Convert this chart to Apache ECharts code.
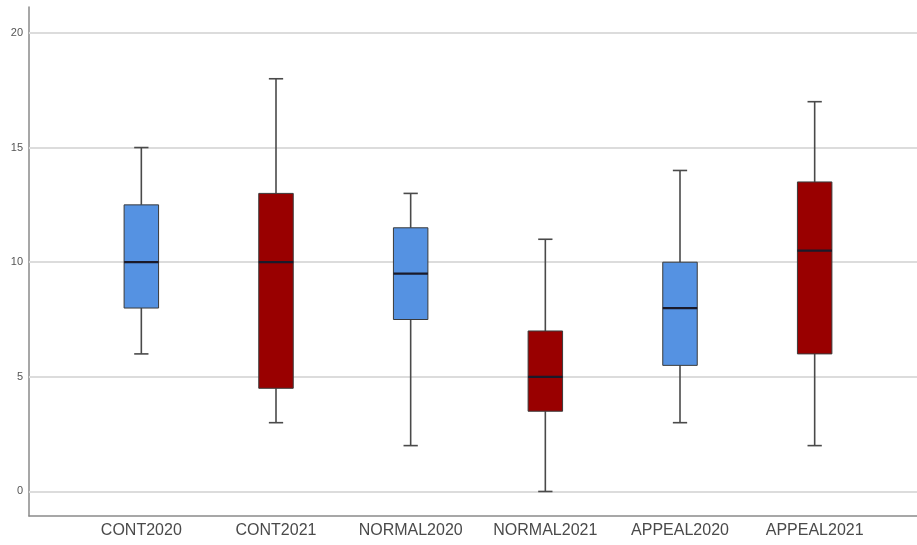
<!DOCTYPE html>
<html>
<head>
<meta charset="utf-8">
<script src="https://cdn.jsdelivr.net/npm/echarts@6/dist/echarts.min.js"></script>
<style>html,body{margin:0;padding:0;background:#fff}#c{width:917px;height:545px}</style>
</head>
<body>
<div id="c"></div>
<script>
var categories = ['CONT2020', 'CONT2021', 'NORMAL2020', 'NORMAL2021', 'APPEAL2020', 'APPEAL2021'];
var whiskerLow  = [6, 3, 2, 0, 3, 2];
var q1          = [8, 4.5, 7.5, 3.5, 5.5, 6];
var median      = [10, 10, 9.5, 5, 8, 10.5];
var q3          = [12.5, 13, 11.5, 7, 10, 13.5];
var whiskerHigh = [15, 18, 13, 11, 14, 17];
var groupColors = ['#5592E2', '#990000', '#5592E2', '#990000', '#5592E2', '#990000'];
var yTicks = [0, 5, 10, 15, 20];

var yMin = -1.07, yMax = 21.13;

var boxData = categories.map(function (c, i) {
  return [i, whiskerLow[i], q1[i], median[i], q3[i], whiskerHigh[i]];
});

var chart = echarts.init(document.getElementById('c'), null, {renderer: 'canvas'});
chart.setOption({
  backgroundColor: '#ffffff',
  animation: false,
  grid: [
    {left: 29, right: 0, top: 7, bottom: 29},
    {left: 74, right: 35, top: 7, bottom: 29}
  ],
  xAxis: [
    {gridIndex: 0, type: 'value', min: 0, max: 1,
     axisLine: {show: true, onZero: false, lineStyle: {color: '#8a8a8a', width: 1.5}},
     axisTick: {show: false}, axisLabel: {show: false}, splitLine: {show: false}},
    {gridIndex: 1, type: 'category', data: categories,
     axisLine: {show: false}, axisTick: {show: false},
     axisLabel: {show: true, interval: 0, hideOverlap: false, margin: 7, color: '#4a4a4a', fontSize: 16,
                 fontFamily: 'Liberation Sans, Arial, sans-serif'},
     splitLine: {show: false}}
  ],
  yAxis: [
    {gridIndex: 0, type: 'value', min: yMin, max: yMax,
     axisLine: {show: true, lineStyle: {color: '#8a8a8a', width: 1.5}},
     axisTick: {show: false},
     axisLabel: {show: true, customValues: yTicks, margin: 6, color: '#555', fontSize: 11,
                 fontFamily: 'Liberation Sans, Arial, sans-serif'},
     splitLine: {show: false}},
    {gridIndex: 1, type: 'value', min: yMin, max: yMax, show: false,
     splitLine: {show: false}}
  ],
  series: [
    {
      type: 'line', xAxisIndex: 0, yAxisIndex: 0, data: [], silent: true,
      markLine: {
        silent: true, symbol: 'none', label: {show: false},
        lineStyle: {color: '#dcdcdc', width: 2, type: 'solid'},
        data: yTicks.map(function (v) { return {yAxis: v}; })
      }
    },
    {
      type: 'custom', xAxisIndex: 1, yAxisIndex: 1, data: boxData, z: 5,
      renderItem: function (params, api) {
        var idx = api.value(0);
        var pLow = api.coord([idx, api.value(1)]);
        var pQ1 = api.coord([idx, api.value(2)]);
        var pMed = api.coord([idx, api.value(3)]);
        var pQ3 = api.coord([idx, api.value(4)]);
        var pHigh = api.coord([idx, api.value(5)]);
        var band = api.size([1, 0])[0];
        var hw = band * 0.128;
        var cw = band * 0.053;
        var x = pMed[0];
        var col = groupColors[params.dataIndex];
        var wStyle = {stroke: '#4a4a4a', lineWidth: 1.6};
        return {
          type: 'group',
          children: [
            {type: 'line', shape: {x1: x, y1: pHigh[1], x2: x, y2: pQ3[1]}, style: wStyle},
            {type: 'line', shape: {x1: x, y1: pQ1[1], x2: x, y2: pLow[1]}, style: wStyle},
            {type: 'line', shape: {x1: x - cw, y1: pHigh[1], x2: x + cw, y2: pHigh[1]}, style: wStyle},
            {type: 'line', shape: {x1: x - cw, y1: pLow[1], x2: x + cw, y2: pLow[1]}, style: wStyle},
            {type: 'rect', shape: {x: x - hw, y: pQ3[1], width: hw * 2, height: pQ1[1] - pQ3[1]},
             style: {fill: col, stroke: '#3a3a3a', lineWidth: 1}},
            {type: 'line', shape: {x1: x - hw, y1: pMed[1], x2: x + hw, y2: pMed[1]},
             style: {stroke: '#1a1a2a', lineWidth: 2.2}}
          ]
        };
      }
    }
  ]
});
</script>
</body>
</html>
